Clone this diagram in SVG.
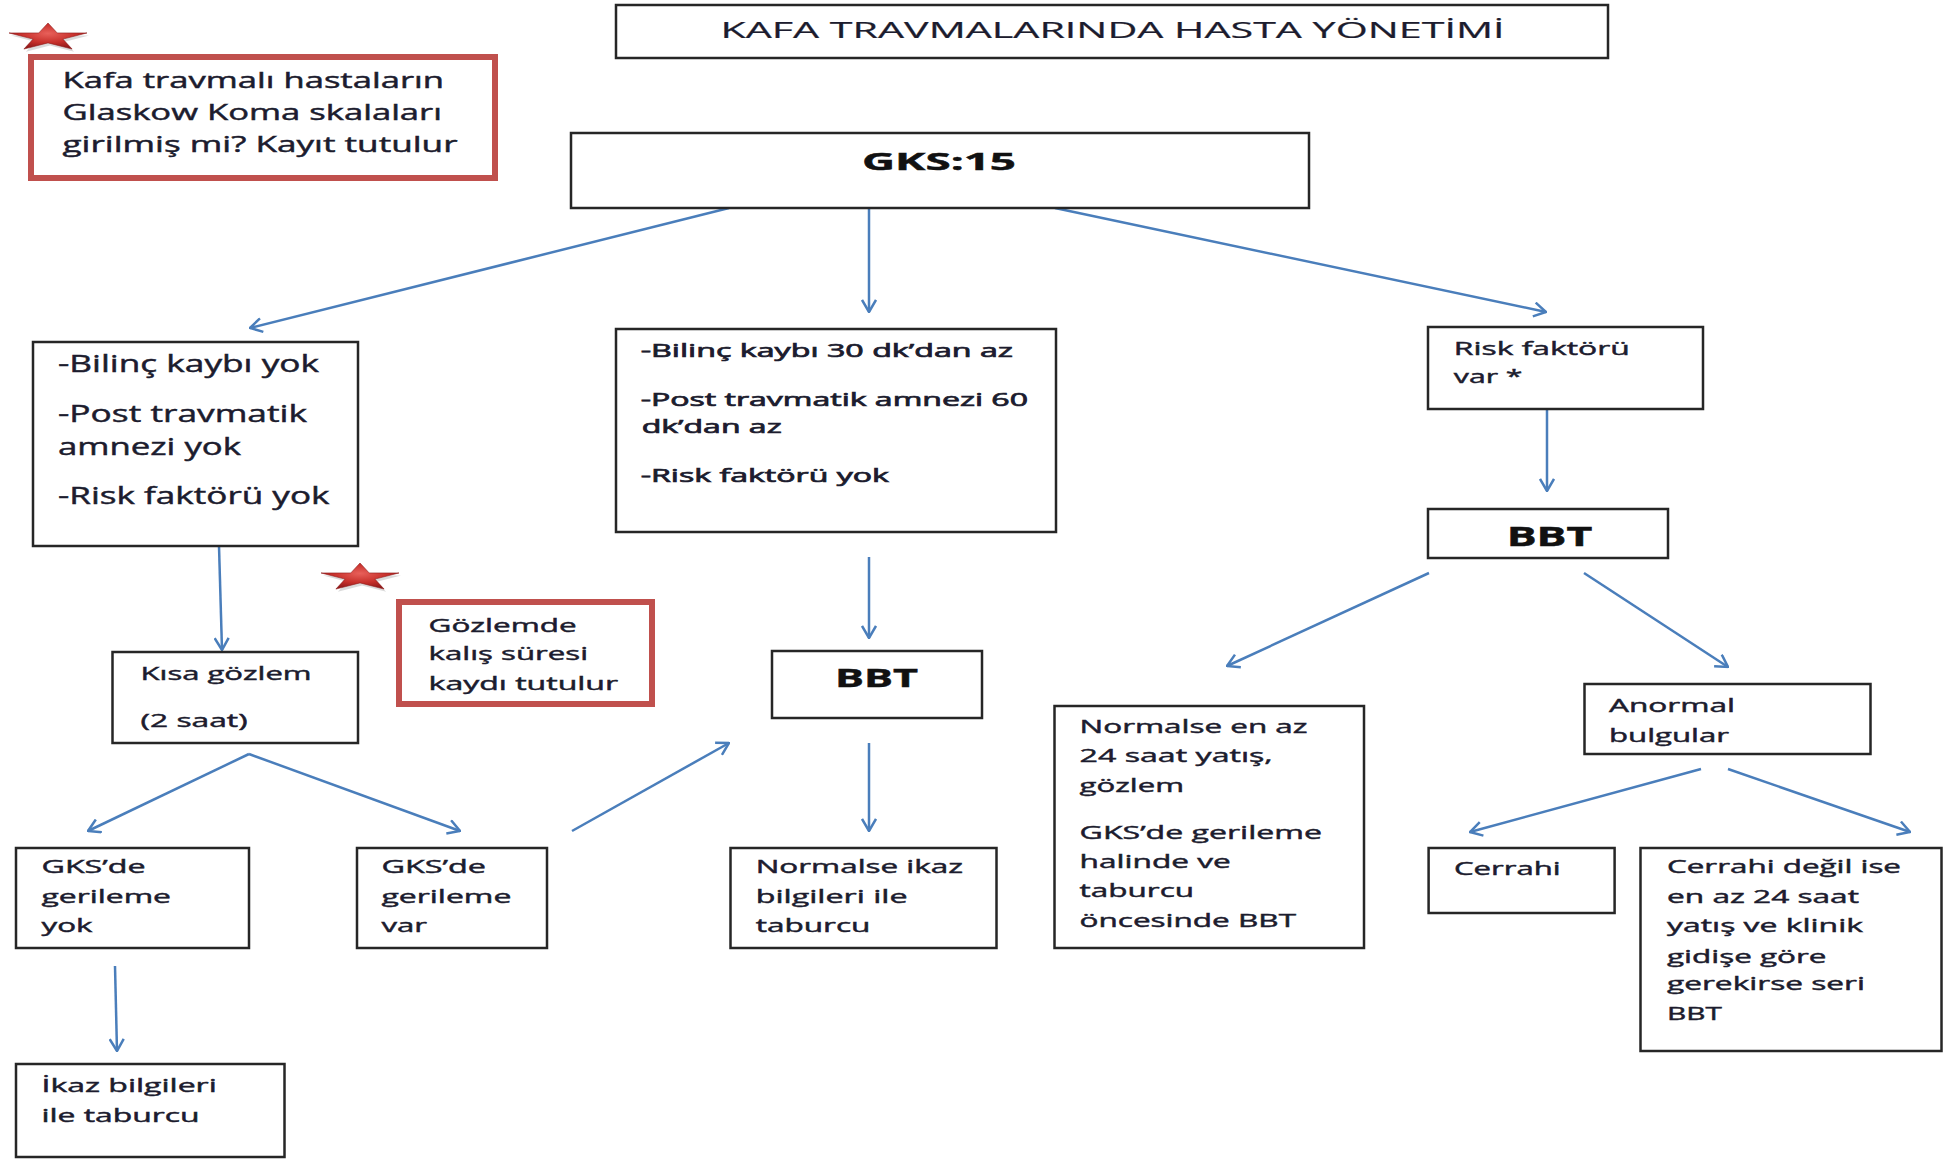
<svg xmlns="http://www.w3.org/2000/svg" width="1952" height="1164" viewBox="0 0 1952 1164">
<defs>
<style>
.box{fill:#fff;stroke:#262626;stroke-width:2.5}
.rbox{fill:#fff;stroke:#c0504d;stroke-width:6}
.t{font-family:"Open Sans","Liberation Sans",sans-serif;fill:#1c1c2e;stroke:#1c1c2e;stroke-width:0.45}
.s{font-size:18.6px}
.m{font-size:22px}
.l{font-size:23.4px}
.b{font-weight:bold;fill:#111;stroke:#111}
.c{fill:none;stroke:#4a7ebb;stroke-width:2.5}
.star{fill:url(#sg);stroke:#8e1c1c;stroke-width:0.6}
</style>
<radialGradient id="sg" cx="50%" cy="40%" r="60%">
<stop offset="0" stop-color="#e8605a"/>
<stop offset="0.6" stop-color="#c62f2a"/>
<stop offset="1" stop-color="#8e1818"/>
</radialGradient>
<marker id="ah" viewBox="0 0 14 16" refX="13" refY="8" markerWidth="14" markerHeight="16" markerUnits="userSpaceOnUse" orient="auto">
<path d="M1,1 L13,8 L1,15" fill="none" stroke="#4a7ebb" stroke-width="2.5"/>
</marker>
<polygon id="starshape" points="0,-14.4 9.2,-4.45 39,-4.45 14.9,1.7 24.1,11.65 0,5.5 -24.1,11.65 -14.9,1.7 -39,-4.45 -9.2,-4.45"/>
</defs>
<rect width="1952" height="1164" fill="#fff"/>

<g id="connectors">
<line class="c" x1="729" y1="208" x2="250" y2="328" marker-end="url(#ah)"/>
<line class="c" x1="869" y1="208" x2="869" y2="312" marker-end="url(#ah)"/>
<line class="c" x1="1055" y1="208" x2="1546" y2="312" marker-end="url(#ah)"/>
<line class="c" x1="219" y1="546" x2="222" y2="650" marker-end="url(#ah)"/>
<line class="c" x1="869" y1="557" x2="869" y2="638" marker-end="url(#ah)"/>
<line class="c" x1="1547" y1="409" x2="1547" y2="491" marker-end="url(#ah)"/>
<line class="c" x1="249" y1="754" x2="88" y2="831" marker-end="url(#ah)"/>
<line class="c" x1="249" y1="754" x2="460" y2="831" marker-end="url(#ah)"/>
<line class="c" x1="572" y1="831" x2="729" y2="743" marker-end="url(#ah)"/>
<line class="c" x1="869" y1="743" x2="869" y2="831" marker-end="url(#ah)"/>
<line class="c" x1="115" y1="966" x2="117" y2="1051" marker-end="url(#ah)"/>
<line class="c" x1="1429" y1="573" x2="1227" y2="666" marker-end="url(#ah)"/>
<line class="c" x1="1584" y1="573" x2="1728" y2="667" marker-end="url(#ah)"/>
<line class="c" x1="1701" y1="769" x2="1470" y2="832" marker-end="url(#ah)"/>
<line class="c" x1="1728" y1="769" x2="1910" y2="832" marker-end="url(#ah)"/>
</g>

<g id="star1">
<use href="#starshape" transform="translate(50,40)" fill="#999" opacity="0.35"/>
<use href="#starshape" class="star" transform="translate(48,37.4)"/>
</g>

<g id="star2">
<use href="#starshape" transform="translate(362,580)" fill="#999" opacity="0.35"/>
<use href="#starshape" class="star" transform="translate(360,577.4)"/>
</g>

<g id="note-gks">
<rect class="rbox" x="31" y="57" width="464" height="121"/>
<text class="t m" x="62.5" y="88" textLength="381.5" lengthAdjust="spacingAndGlyphs">Kafa travmalı hastaların</text>
<text class="t m" x="62.5" y="119.5" textLength="379.5" lengthAdjust="spacingAndGlyphs">Glaskow Koma skalaları</text>
<text class="t m" x="62.5" y="151.5" textLength="395" lengthAdjust="spacingAndGlyphs">girilmiş mi? Kayıt tutulur</text>
</g>

<g id="title">
<rect class="box" x="616" y="5" width="992" height="53"/>
<text class="t" style="font-size:21px;stroke-width:0.2" x="720.5" y="38.3" textLength="784" lengthAdjust="spacingAndGlyphs">KAFA TRAVMALARINDA HASTA YÖNETİMİ</text>
</g>

<g id="gks15">
<rect class="box" x="571" y="133" width="738" height="75"/>
<text class="t b" style="font-size:24px" x="862" y="170" textLength="154" lengthAdjust="spacingAndGlyphs">GKS:15</text>
</g>

<g id="no-loss">
<rect class="box" x="33" y="342" width="325" height="204"/>
<text class="t l" x="58" y="372" textLength="261" lengthAdjust="spacingAndGlyphs">-Bilinç kaybı yok</text>
<text class="t l" x="58" y="422" textLength="249" lengthAdjust="spacingAndGlyphs">-Post travmatik</text>
<text class="t l" x="58" y="455" textLength="183" lengthAdjust="spacingAndGlyphs">amnezi yok</text>
<text class="t l" x="58" y="504" textLength="271.5" lengthAdjust="spacingAndGlyphs">-Risk faktörü yok</text>
</g>

<g id="short-loss">
<rect class="box" x="616" y="329" width="440" height="203"/>
<text class="t s" style="stroke-width:0.7" x="640.7" y="356.7" textLength="372.3" lengthAdjust="spacingAndGlyphs">-Bilinç kaybı 30 dk’dan az</text>
<text class="t s" style="stroke-width:0.7" x="640.7" y="405.7" textLength="387.3" lengthAdjust="spacingAndGlyphs">-Post travmatik amnezi 60</text>
<text class="t s" style="stroke-width:0.7" x="641.7" y="433" textLength="140" lengthAdjust="spacingAndGlyphs">dk’dan az</text>
<text class="t s" style="stroke-width:0.7" x="640.7" y="481.7" textLength="248.3" lengthAdjust="spacingAndGlyphs">-Risk faktörü yok</text>
</g>

<g id="risk-var">
<rect class="box" x="1428" y="327" width="275" height="82"/>
<text class="t s" x="1453.8" y="355" textLength="176" lengthAdjust="spacingAndGlyphs">Risk faktörü</text>
<text class="t s" x="1453.8" y="383.3" textLength="68.7" lengthAdjust="spacingAndGlyphs">var *</text>
</g>

<g id="bbt-right">
<rect class="box" x="1428" y="509" width="240" height="49"/>
<text class="t b" style="font-size:26.6px" x="1506.7" y="545.7" textLength="85.6" lengthAdjust="spacingAndGlyphs">BBT</text>
</g>

<g id="note-stay">
<rect class="rbox" x="399" y="602" width="253" height="102"/>
<text class="t s" x="428.6" y="631.7" textLength="148" lengthAdjust="spacingAndGlyphs">Gözlemde</text>
<text class="t s" x="428.6" y="660" textLength="159.5" lengthAdjust="spacingAndGlyphs">kalış süresi</text>
<text class="t s" x="428.6" y="690" textLength="189.5" lengthAdjust="spacingAndGlyphs">kaydı tutulur</text>
</g>

<g id="short-obs">
<rect class="box" x="112.5" y="652" width="245.5" height="91"/>
<text class="t s" x="140.6" y="680" textLength="171" lengthAdjust="spacingAndGlyphs">Kısa gözlem</text>
<text class="t s" x="140.6" y="727" textLength="107" lengthAdjust="spacingAndGlyphs">(2 saat)</text>
</g>

<g id="bbt-mid">
<rect class="box" x="772" y="651" width="210" height="67"/>
<text class="t b" style="font-size:25.6px" x="835" y="686.7" textLength="83" lengthAdjust="spacingAndGlyphs">BBT</text>
</g>

<g id="gks-no-decline">
<rect class="box" x="16" y="848" width="233" height="100"/>
<text class="t s" x="41.5" y="873.3" textLength="104" lengthAdjust="spacingAndGlyphs">GKS’de</text>
<text class="t s" x="41.5" y="903.3" textLength="129.5" lengthAdjust="spacingAndGlyphs">gerileme</text>
<text class="t s" x="41.5" y="931.7" textLength="51" lengthAdjust="spacingAndGlyphs">yok</text>
</g>

<g id="gks-decline">
<rect class="box" x="357" y="848" width="190" height="100"/>
<text class="t s" x="381.4" y="873.3" textLength="104.6" lengthAdjust="spacingAndGlyphs">GKS’de</text>
<text class="t s" x="381.4" y="903.3" textLength="130" lengthAdjust="spacingAndGlyphs">gerileme</text>
<text class="t s" x="381.4" y="931.7" textLength="45.6" lengthAdjust="spacingAndGlyphs">var</text>
</g>

<g id="normal-discharge">
<rect class="box" x="730.5" y="848" width="266" height="100"/>
<text class="t s" x="755.7" y="873.3" textLength="207.3" lengthAdjust="spacingAndGlyphs">Normalse ikaz</text>
<text class="t s" x="755.7" y="903.3" textLength="151.8" lengthAdjust="spacingAndGlyphs">bilgileri ile</text>
<text class="t s" x="755.7" y="931.7" textLength="114.8" lengthAdjust="spacingAndGlyphs">taburcu</text>
</g>

<g id="warn-discharge">
<rect class="box" x="16" y="1064" width="268.5" height="93"/>
<text class="t s" x="41.5" y="1091.7" textLength="175.3" lengthAdjust="spacingAndGlyphs">İkaz bilgileri</text>
<text class="t s" x="41.5" y="1121.7" textLength="158.1" lengthAdjust="spacingAndGlyphs">ile taburcu</text>
</g>

<g id="normal-24h">
<rect class="box" x="1054.5" y="706" width="309.5" height="242"/>
<text class="t s" x="1079.6" y="733.3" textLength="228" lengthAdjust="spacingAndGlyphs">Normalse en az</text>
<text class="t s" x="1079.6" y="761.7" textLength="193.1" lengthAdjust="spacingAndGlyphs">24 saat yatış,</text>
<text class="t s" x="1079.6" y="791.7" textLength="104.4" lengthAdjust="spacingAndGlyphs">gözlem</text>
<text class="t s" x="1079.6" y="839.3" textLength="242.4" lengthAdjust="spacingAndGlyphs">GKS’de gerileme</text>
<text class="t s" x="1079.6" y="868.3" textLength="151.2" lengthAdjust="spacingAndGlyphs">halinde ve</text>
<text class="t s" x="1079.6" y="896.7" textLength="114.4" lengthAdjust="spacingAndGlyphs">taburcu</text>
<text class="t s" x="1079.6" y="926.7" textLength="216.4" lengthAdjust="spacingAndGlyphs">öncesinde BBT</text>
</g>

<g id="abnormal">
<rect class="box" x="1584.5" y="684" width="286" height="70"/>
<text class="t s" x="1609" y="711.7" textLength="126" lengthAdjust="spacingAndGlyphs">Anormal</text>
<text class="t s" x="1609" y="741.7" textLength="120" lengthAdjust="spacingAndGlyphs">bulgular</text>
</g>

<g id="surgery">
<rect class="box" x="1428.6" y="848" width="186" height="65"/>
<text class="t s" x="1454" y="875" textLength="106.7" lengthAdjust="spacingAndGlyphs">Cerrahi</text>
</g>

<g id="non-surgery">
<rect class="box" x="1640.5" y="848" width="301" height="203"/>
<text class="t s" x="1667" y="873.3" textLength="234" lengthAdjust="spacingAndGlyphs">Cerrahi değil ise</text>
<text class="t s" x="1667" y="903.3" textLength="192" lengthAdjust="spacingAndGlyphs">en az 24 saat</text>
<text class="t s" x="1667" y="931.7" textLength="196" lengthAdjust="spacingAndGlyphs">yatış ve klinik</text>
<text class="t s" x="1667" y="962.7" textLength="159.5" lengthAdjust="spacingAndGlyphs">gidişe göre</text>
<text class="t s" x="1667" y="990" textLength="198" lengthAdjust="spacingAndGlyphs">gerekirse seri</text>
<text class="t s" x="1667" y="1020" textLength="54.8" lengthAdjust="spacingAndGlyphs">BBT</text>
</g>
</svg>
